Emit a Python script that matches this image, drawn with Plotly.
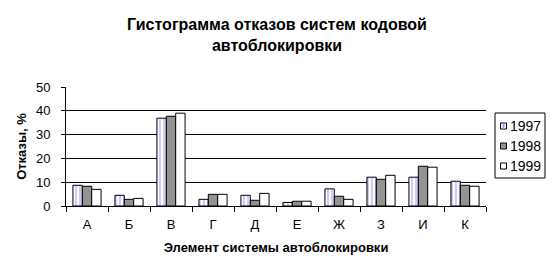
import plotly.graph_objects as go

categories = ["А", "Б", "В", "Г", "Д", "Е", "Ж", "З", "И", "К"]
v1997 = [8.7, 4.5, 36.9, 2.8, 4.5, 1.5, 7.2, 12.1, 12.1, 10.4]
v1998 = [8.3, 2.8, 37.7, 4.9, 2.4, 2.0, 4.1, 11.2, 16.7, 8.7]
v1999 = [7.0, 3.2, 39.0, 4.9, 5.3, 2.0, 2.8, 12.9, 16.3, 8.3]
years = ["1997", "1998", "1999"]

font = "Liberation Sans, Arial, sans-serif"
STRIPE = "#9999ff"
GRAY = "#939393"

fig = go.Figure()
fig.add_trace(go.Bar(x=categories, y=v1997, name=years[0],
                     marker=dict(color="white", line=dict(color="black", width=1),
                                 pattern=dict(shape="|", fgcolor=STRIPE, bgcolor="white",
                                              size=4, solidity=0.55, fillmode="overlay"))))
fig.add_trace(go.Bar(x=categories, y=v1998, name=years[1],
                     marker=dict(color=GRAY, line=dict(color="black", width=1))))
fig.add_trace(go.Bar(x=categories, y=v1999, name=years[2],
                     marker=dict(color="white", line=dict(color="black", width=1))))

# manual legend (plot-area paper coordinates: x 66..486 px, y 206..87 px)
L, R, T, B = 66, 486, 87, 206
px = lambda v: (v - L) / (R - L)
py = lambda v: (B - v) / (B - T)
shapes = [dict(type="rect", xref="paper", yref="paper",
               x0=px(495), x1=px(545), y0=py(178), y1=py(113),
               line=dict(color="black", width=1), fillcolor="white")]
annotations = []
fills = ["white", GRAY, "white"]
rows = [126, 146, 166]
for yr, fc, ry in zip(years, fills, rows):
    shapes.append(dict(type="rect", xref="paper", yref="paper",
                       x0=px(500.5), x1=px(506.5), y0=py(ry + 3), y1=py(ry - 3),
                       line=dict(color="black", width=1), fillcolor=fc))
    annotations.append(dict(text=yr, xref="paper", yref="paper", x=px(508), y=py(ry),
                            xanchor="left", yanchor="middle", showarrow=False,
                            font=dict(size=14, family=font, color="black")))
shapes.append(dict(type="line", xref="paper", yref="paper",
                   x0=px(503.5), x1=px(503.5), y0=py(rows[0] + 2.5), y1=py(rows[0] - 2.5),
                   line=dict(color=STRIPE, width=2)))

fig.update_layout(
    width=554, height=276,
    margin=dict(l=L, r=554 - R, t=T, b=276 - B),
    paper_bgcolor="white", plot_bgcolor="white",
    barmode="group", bargap=0.33, bargroupgap=0,
    showlegend=False,
    font=dict(family=font, color="black", size=13),
    title=dict(text="<b>Гистограмма отказов систем кодовой<br>автоблокировки</b>",
               x=0.5, xanchor="center", y=0.892, yanchor="top",
               font=dict(size=16, family=font, color="black")),
    xaxis=dict(showline=True, linecolor="black", linewidth=1,
               ticks="outside", tickson="boundaries", ticklen=5, tickcolor="black",
               tickfont=dict(size=13), ticklabelstandoff=6,
               title=dict(text="<b>Элемент системы автоблокировки</b>", font=dict(size=13), standoff=12)),
    yaxis=dict(range=[0, 50], dtick=10, showline=True, linecolor="black", linewidth=1,
               ticks="outside", ticklen=4, tickcolor="black",
               showgrid=True, gridcolor="black", gridwidth=1,
               tickfont=dict(size=13), ticklabelstandoff=8,
               title=dict(text="<b>Отказы, %</b>", font=dict(size=13), standoff=6)),
    shapes=shapes, annotations=annotations,
)
fig.write_html("out.html")
